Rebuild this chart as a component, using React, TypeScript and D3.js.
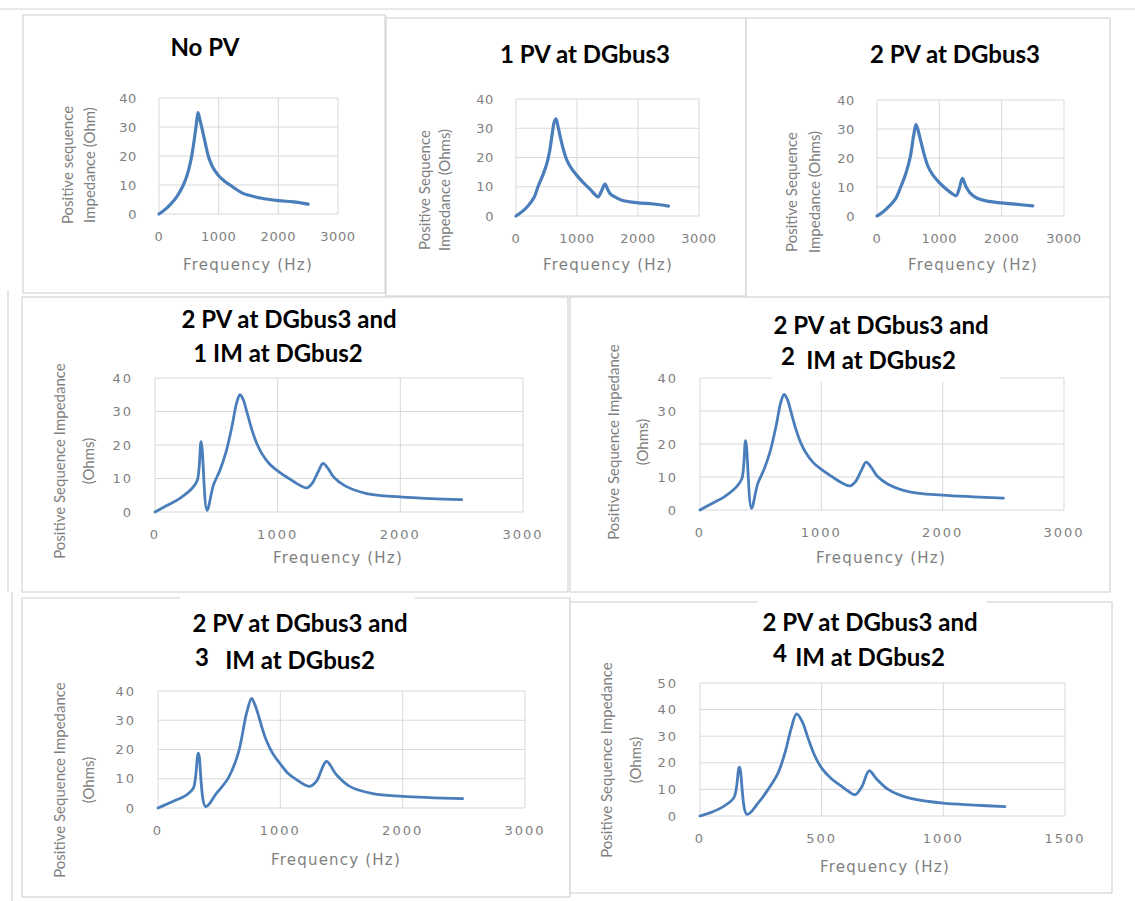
import React from 'react'
import * as d3 from 'd3'

// frequency (Hz) / positive sequence impedance (Ohm)
const noPvFreq = [0, 100, 200, 300, 408, 480, 548, 620, 654, 680, 715, 770, 826, 880, 950, 1000, 1100, 1190, 1400, 1700, 2000, 2250, 2500]
const noPvImp = [0, 1.5, 3.5, 6, 10, 14, 20, 30, 35, 33, 30, 25, 20, 17, 14.5, 13.2, 11.3, 10, 7.2, 5.5, 4.6, 4.2, 3.4]

const pv1Freq = [0, 100, 200, 300, 360, 440, 500, 550, 590, 625, 656, 690, 721, 780, 836, 900, 1000, 1100, 1213, 1300, 1344, 1400, 1459, 1500, 1550, 1650, 1750, 2000, 2250, 2500]
const pv1Imp = [0, 1.5, 3.5, 6.5, 10, 14, 17.5, 22, 27.5, 32, 33.2, 30.5, 27.5, 22.5, 19, 16.5, 13.8, 11.5, 9.2, 7.2, 6.5, 8.5, 10.9, 9.2, 7.5, 6.2, 5.3, 4.5, 4.1, 3.4]

const pv2Freq = [0, 100, 200, 300, 380, 460, 530, 590, 625, 660, 700, 760, 820, 900, 1000, 1100, 1200, 1270, 1320, 1370, 1420, 1500, 1600, 1750, 2000, 2250, 2500]
const pv2Imp = [0, 1.5, 3.5, 6, 10, 14.5, 20, 28, 31.5, 29.5, 26, 21, 17, 14, 11.5, 9.5, 7.8, 7, 9.5, 13, 10.5, 7.8, 6.2, 5.2, 4.5, 4, 3.5]

const im1Freq = [0, 100, 200, 300, 345, 376, 424, 476, 530, 580, 630, 665, 693, 720, 748, 790, 829, 870, 930, 1000, 1100, 1180, 1237, 1280, 1330, 1370, 1410, 1460, 1550, 1726, 2000, 2250, 2500]
const im1Imp = [0, 2, 4, 7, 9.5, 21, 0.5, 8, 12.5, 18, 26, 32.5, 35, 33.5, 30, 24.5, 20.5, 17.5, 14.5, 12.3, 9.8, 8, 7.2, 8.5, 12, 14.5, 13, 10.3, 7.8, 5.5, 4.5, 4, 3.7]

const im2Freq = [0, 100, 200, 300, 345, 376, 424, 476, 530, 580, 630, 665, 693, 720, 748, 790, 829, 870, 930, 1000, 1100, 1180, 1240, 1280, 1330, 1370, 1410, 1460, 1550, 1726, 2000, 2250, 2500]
const im2Imp = [0, 2, 4, 7, 9.5, 21, 0.5, 8, 12.5, 18, 26, 32.5, 35, 33.5, 30, 24.5, 20.5, 17.5, 14.5, 12.3, 9.8, 8, 7.3, 8.5, 12, 14.5, 13, 10.3, 7.8, 5.5, 4.5, 4, 3.6]

const im3Freq = [0, 125, 234, 289, 330, 389, 479, 574, 656, 724, 765, 790, 819, 850, 887, 940, 996, 1060, 1132, 1241, 1295, 1377, 1458, 1567, 1757, 2000, 2490]
const im3Imp = [0, 2.3, 4.5, 6.8, 18.75, 0.5, 5.1, 10.2, 18.75, 32.4, 37.5, 35.5, 32, 27.5, 23, 18.5, 15.3, 12, 9.7, 7.4, 9.1, 15.9, 11.4, 7.4, 4.9, 4, 3.2]

const im4Freq = [0, 50, 100, 140, 162, 193, 240, 280, 320, 350, 375, 397, 420, 445, 470, 500, 540, 580, 610, 637, 665, 695, 725, 773, 850, 1000, 1125, 1253]
const im4Imp = [0, 1.5, 3.8, 7, 18.4, 0.6, 5, 10, 16, 24, 33, 38.4, 35.5, 29, 23, 18, 14, 11.3, 9.3, 8, 11, 17, 14, 10, 7, 4.8, 4.1, 3.5]

const xTicks3000 = [0, 1000, 2000, 3000]
const xTicks1500 = [0, 500, 1000, 1500]
const yTicks40 = [0, 10, 20, 30, 40]
const yTicks50 = [0, 10, 20, 30, 40, 50]

const lineColor = '#4a7ebb'
const gridColor = '#d9d9d9'
const frameColor = '#d4d4d4'
const labelColor = '#7f7f7f'
const titleFont = "Lato, 'Open Sans', sans-serif"
const tickFont = "'DejaVu Sans', sans-serif"

const panels = [
  {
    freq: noPvFreq, imp: noPvImp, xTicks: xTicks3000, yTicks: yTicks40,
    frame: [23, 15, 362, 278], plot: [159, 338, 98, 214], small: true,
    titles: [{ text: 'No PV', x: 205, y: 56 }],
    yTitle: ['Positive sequence', 'Impedance (Ohm)'], yTitleX: [68, 90], yTitleY: 165,
    xLabel: [248, 270], masks: [],
  },
  {
    freq: pv1Freq, imp: pv1Imp, xTicks: xTicks3000, yTicks: yTicks40,
    frame: [386, 18, 360, 278], plot: [516, 699, 99, 216], small: true,
    titles: [{ text: '1 PV at DGbus3', x: 585, y: 63 }],
    yTitle: ['Positive Sequence', 'Impedance (Ohms)'], yTitleX: [425, 445], yTitleY: 190,
    xLabel: [608, 270], masks: [],
  },
  {
    freq: pv2Freq, imp: pv2Imp, xTicks: xTicks3000, yTicks: yTicks40,
    frame: [746, 18, 364, 280], plot: [877, 1064, 100, 216], small: true,
    titles: [{ text: '2 PV at DGbus3', x: 955, y: 63 }],
    yTitle: ['Positive Sequence', 'Impedance (Ohms)'], yTitleX: [792, 815], yTitleY: 192,
    xLabel: [973, 270], masks: [],
  },
  {
    freq: im1Freq, imp: im1Imp, xTicks: xTicks3000, yTicks: yTicks40,
    frame: [22, 297, 546, 295], plot: [155, 523, 378, 512], small: false,
    titles: [
      { text: '2 PV at DGbus3 and', x: 289, y: 328 },
      { text: '1 IM at DGbus2', x: 278, y: 362 },
    ],
    yTitle: ['Positive Sequence Impedance', '(Ohms)'], yTitleX: [60, 89], yTitleY: 461,
    xLabel: [338, 563], masks: [],
  },
  {
    freq: im2Freq, imp: im2Imp, xTicks: xTicks3000, yTicks: yTicks40,
    frame: [570, 297, 540, 295], plot: [700, 1064, 378, 510], small: false,
    titles: [
      { text: '2 PV at DGbus3 and', x: 881, y: 334 },
      { text: '2', x: 788, y: 365 },
      { text: 'IM at DGbus2', x: 881, y: 369 },
    ],
    yTitle: ['Positive Sequence Impedance', '(Ohms)'], yTitleX: [614, 643], yTitleY: 442,
    xLabel: [881, 563], masks: [[772, 372, 228, 10]],
  },
  {
    freq: im3Freq, imp: im3Imp, xTicks: xTicks3000, yTicks: yTicks40,
    frame: [22, 598, 548, 299], plot: [158, 525, 691, 808], small: false,
    titles: [
      { text: '2 PV at DGbus3 and', x: 300, y: 632 },
      { text: '3', x: 202, y: 666 },
      { text: 'IM at DGbus2', x: 300, y: 669 },
    ],
    yTitle: ['Positive Sequence Impedance', '(Ohms)'], yTitleX: [60, 89], yTitleY: 780,
    xLabel: [336, 865], masks: [[180, 594, 235, 8]],
  },
  {
    freq: im4Freq, imp: im4Imp, xTicks: xTicks1500, yTicks: yTicks50,
    frame: [570, 602, 542, 291], plot: [700, 1065, 683, 816], small: false,
    titles: [
      { text: '2 PV at DGbus3 and', x: 870, y: 631 },
      { text: '4', x: 780, y: 662 },
      { text: 'IM at DGbus2', x: 870, y: 666 },
    ],
    yTitle: ['Positive Sequence Impedance', '(Ohms)'], yTitleX: [607, 636], yTitleY: 760,
    xLabel: [885, 872], masks: [[758, 598, 229, 8]],
  },
]

const Panel = ({ p }: { p: any }) => {
  const [fx, fy, fw, fh] = p.frame
  const [left, right, top, bottom] = p.plot
  const x = d3.scaleLinear().domain(d3.extent(p.xTicks) as [number, number]).range([left, right])
  const y = d3.scaleLinear().domain(d3.extent(p.yTicks) as [number, number]).range([bottom, top])
  const line = d3
    .line<number>()
    .x((d, i) => x(p.freq[i]))
    .y((d) => y(d))
    .curve(d3.curveCatmullRom.alpha(0.5))
  const tickSpacing = p.small ? 0.6 : 2

  return (
    <g>
      <rect x={fx} y={fy} width={fw} height={fh} fill="#fff" stroke={frameColor} strokeWidth={1.2} />
      {p.xTicks.map((t: number) => (
        <line key={'gx' + t} x1={x(t)} x2={x(t)} y1={top} y2={bottom} stroke={gridColor} strokeWidth={1} />
      ))}
      {p.yTicks.map((t: number) => (
        <line key={'gy' + t} x1={left} x2={right} y1={y(t)} y2={y(t)} stroke={gridColor} strokeWidth={1} />
      ))}
      {p.masks.map((m: number[], i: number) => (
        <rect key={'m' + i} x={m[0]} y={m[1]} width={m[2]} height={m[3]} fill="#fff" />
      ))}
      <path d={line(p.imp) || ''} fill="none" stroke={lineColor} strokeWidth={p.small ? 3.2 : 2.8}
        strokeLinejoin="round" strokeLinecap="round" />
      {p.yTicks.map((t: number) => (
        <text key={'ty' + t} x={left - 22} y={y(t)} dy="0.36em" textAnchor="end"
          fontFamily={tickFont} fontSize={13} letterSpacing={tickSpacing} fill={labelColor}>{t}</text>
      ))}
      {p.xTicks.map((t: number) => (
        <text key={'tx' + t} x={x(t)} y={bottom + 22} dy="0.36em" textAnchor="middle"
          fontFamily={tickFont} fontSize={13} letterSpacing={tickSpacing} fill={labelColor}>{t}</text>
      ))}
      <text x={p.xLabel[0]} y={p.xLabel[1]} textAnchor="middle" fontFamily={tickFont}
        fontSize={15} letterSpacing={1.2} fill={labelColor}>Frequency (Hz)</text>
      {p.yTitle.map((s: string, i: number) => (
        <text key={'yt' + i} transform={`translate(${p.yTitleX[i]},${p.yTitleY}) rotate(-90)`}
          dy="0.35em" textAnchor="middle" fontFamily={titleFont} fontSize={15} fill={labelColor}>{s}</text>
      ))}
      {p.titles.map((t: any, i: number) => (
        <text key={'t' + i} x={t.x} y={t.y} textAnchor="middle" fontFamily={titleFont}
          fontWeight="bold" fontSize={24} fill="#000">{t.text}</text>
      ))}
    </g>
  )
}

const App = () => {
  const width = 1135
  const height = 901
  return (
    <svg width={width} height={height} style={{ position: 'absolute', left: 0, top: 0, background: '#fff' }}>
      <rect width={width} height={height} fill="#fff" />
      <line x1={0} x2={width} y1={9} y2={9} stroke={frameColor} strokeWidth={1.2} />
      <line x1={8} x2={8} y1={290} y2={592} stroke={frameColor} strokeWidth={1.2} />
      <line x1={12} x2={12} y1={592} y2={height} stroke={frameColor} strokeWidth={1.2} />
      {panels.map((p, i) => (
        <Panel key={i} p={p} />
      ))}
    </svg>
  )
}

export default App
